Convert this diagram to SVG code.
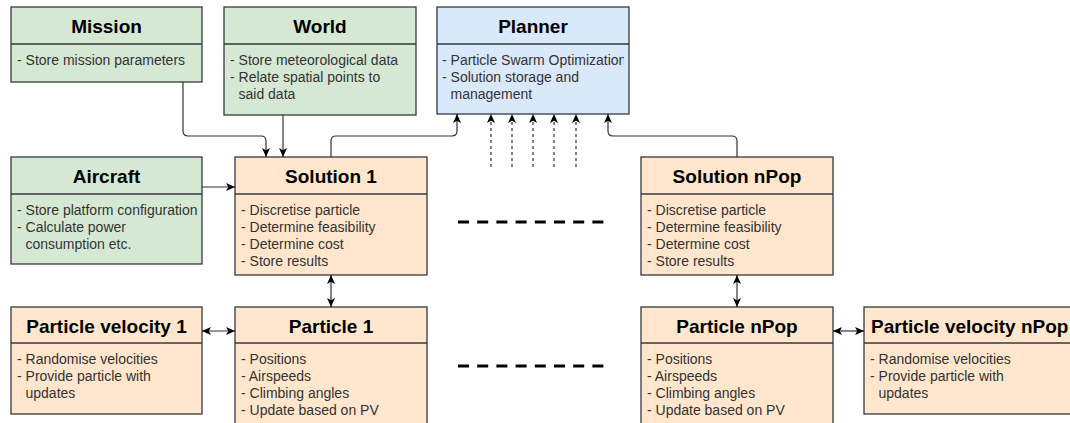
<svg xmlns="http://www.w3.org/2000/svg" width="1070" height="423" viewBox="0 0 1070 423">
<style>
.box{stroke:#36393d;stroke-width:1.3}
.g{fill:#d5e8d4}.b{fill:#dae8fc}.o{fill:#ffe6cc}
.t{font-family:"Liberation Sans",Arial,sans-serif;font-weight:bold;font-size:19px;fill:#000;text-anchor:middle}
.x{font-family:"Liberation Sans",Arial,sans-serif;font-size:14px;fill:#333}
.c{fill:none;stroke:#333;stroke-width:1.2}
.d{stroke-dasharray:3 3}
.ld{fill:none;stroke:#000;stroke-width:3;stroke-dasharray:11 8.2}
</style>
<defs>
<marker id="a" markerUnits="userSpaceOnUse" markerWidth="10" markerHeight="10" refX="9" refY="4" orient="auto-start-reverse" viewBox="0 0 10 8">
<path d="M0,0 L9,4 L0,8 L2.2,4 z" fill="#000"/>
</marker>
<clipPath id="cp"><rect x="437" y="44" width="187" height="70"/></clipPath>
</defs>
<rect width="1070" height="423" fill="#fff"/>

<g id="mission">
<rect class="box g" x="11" y="7" width="191" height="75"/>
<line class="box" x1="11" y1="44" x2="202" y2="44"/>
<text class="t" x="106.5" y="33">Mission</text>
<text class="x" x="17" y="65">- Store mission parameters</text>
</g>

<g id="world">
<rect class="box g" x="224" y="7" width="192" height="108"/>
<line class="box" x1="224" y1="44" x2="416" y2="44"/>
<text class="t" x="320" y="33">World</text>
<text class="x" x="230" y="65">- Store meteorological data</text>
<text class="x" x="230" y="82">- Relate spatial points to</text>
<text class="x" x="238.5" y="99">said data</text>
</g>

<g id="planner">
<rect class="box b" x="437" y="7" width="192" height="107"/>
<line class="box" x1="437" y1="44" x2="629" y2="44"/>
<text class="t" x="533" y="33">Planner</text>
<text class="x" x="442" y="65" clip-path="url(#cp)">- Particle Swarm Optimization</text>
<text class="x" x="442" y="82">- Solution storage and</text>
<text class="x" x="450.5" y="99">management</text>
</g>

<g id="aircraft">
<rect class="box g" x="11" y="157" width="191" height="107"/>
<line class="box" x1="11" y1="194" x2="202" y2="194"/>
<text class="t" x="106.5" y="183">Aircraft</text>
<text class="x" x="17" y="215">- Store platform configuration</text>
<text class="x" x="17" y="232">- Calculate power</text>
<text class="x" x="25.5" y="249">consumption etc.</text>
</g>

<g id="solution1">
<rect class="box o" x="235" y="157" width="192" height="118"/>
<line class="box" x1="235" y1="194" x2="427" y2="194"/>
<text class="t" x="331" y="183">Solution 1</text>
<text class="x" x="241" y="215">- Discretise particle</text>
<text class="x" x="241" y="232">- Determine feasibility</text>
<text class="x" x="241" y="249">- Determine cost</text>
<text class="x" x="241" y="266">- Store results</text>
</g>

<g id="solutionNPop">
<rect class="box o" x="641" y="157" width="192" height="118"/>
<line class="box" x1="641" y1="194" x2="833" y2="194"/>
<text class="t" x="737" y="183">Solution nPop</text>
<text class="x" x="647" y="215">- Discretise particle</text>
<text class="x" x="647" y="232">- Determine feasibility</text>
<text class="x" x="647" y="249">- Determine cost</text>
<text class="x" x="647" y="266">- Store results</text>
</g>

<g id="pv1">
<rect class="box o" x="11" y="307" width="191" height="107"/>
<line class="box" x1="11" y1="343" x2="202" y2="343"/>
<text class="t" x="106.5" y="333">Particle velocity 1</text>
<text class="x" x="17" y="364">- Randomise velocities</text>
<text class="x" x="17" y="381">- Provide particle with</text>
<text class="x" x="25.5" y="398">updates</text>
</g>

<g id="particle1">
<rect class="box o" x="235" y="307" width="192" height="130"/>
<line class="box" x1="235" y1="343" x2="427" y2="343"/>
<text class="t" x="331" y="333">Particle 1</text>
<text class="x" x="241" y="364">- Positions</text>
<text class="x" x="241" y="381">- Airspeeds</text>
<text class="x" x="241" y="398">- Climbing angles</text>
<text class="x" x="241" y="415">- Update based on PV</text>
</g>

<g id="particleNPop">
<rect class="box o" x="641" y="307" width="192" height="130"/>
<line class="box" x1="641" y1="343" x2="833" y2="343"/>
<text class="t" x="737" y="333">Particle nPop</text>
<text class="x" x="647" y="364">- Positions</text>
<text class="x" x="647" y="381">- Airspeeds</text>
<text class="x" x="647" y="398">- Climbing angles</text>
<text class="x" x="647" y="415">- Update based on PV</text>
</g>

<g id="pvNPop">
<rect class="box o" x="864" y="307" width="215" height="107"/>
<line class="box" x1="864" y1="343" x2="1079" y2="343"/>
<text class="t" x="871" y="333" style="text-anchor:start">Particle velocity nPop</text>
<text class="x" x="870" y="364">- Randomise velocities</text>
<text class="x" x="870" y="381">- Provide particle with</text>
<text class="x" x="878.5" y="398">updates</text>
</g>

<g id="connectors">
<path class="c" d="M183,82 V131 Q183,136 188,136 H261 Q266,136 266,141 V157" marker-end="url(#a)"/>
<path class="c" d="M283,115 V157" marker-end="url(#a)"/>
<path class="c" d="M202,187 H235" marker-end="url(#a)"/>
<path class="c" d="M331,157 V141 Q331,136 336,136 H452 Q457,136 457,131 V114" marker-end="url(#a)"/>
<path class="c" d="M737,157 V141 Q737,136 732,136 H613 Q608,136 608,131 V114" marker-end="url(#a)"/>
<path class="c d" d="M491,167 V114" marker-end="url(#a)"/>
<path class="c d" d="M512,167 V114" marker-end="url(#a)"/>
<path class="c d" d="M533,167 V114" marker-end="url(#a)"/>
<path class="c d" d="M554,167 V114" marker-end="url(#a)"/>
<path class="c d" d="M576,167 V114" marker-end="url(#a)"/>
<path class="c" d="M331,275 V307" marker-start="url(#a)" marker-end="url(#a)"/>
<path class="c" d="M737,275 V307" marker-start="url(#a)" marker-end="url(#a)"/>
<path class="c" d="M202,331 H235" marker-start="url(#a)" marker-end="url(#a)"/>
<path class="c" d="M833,331 H864" marker-start="url(#a)" marker-end="url(#a)"/>
<path class="ld" d="M458,222 H604"/>
<path class="ld" d="M458,366 H604"/>
</g>
</svg>
